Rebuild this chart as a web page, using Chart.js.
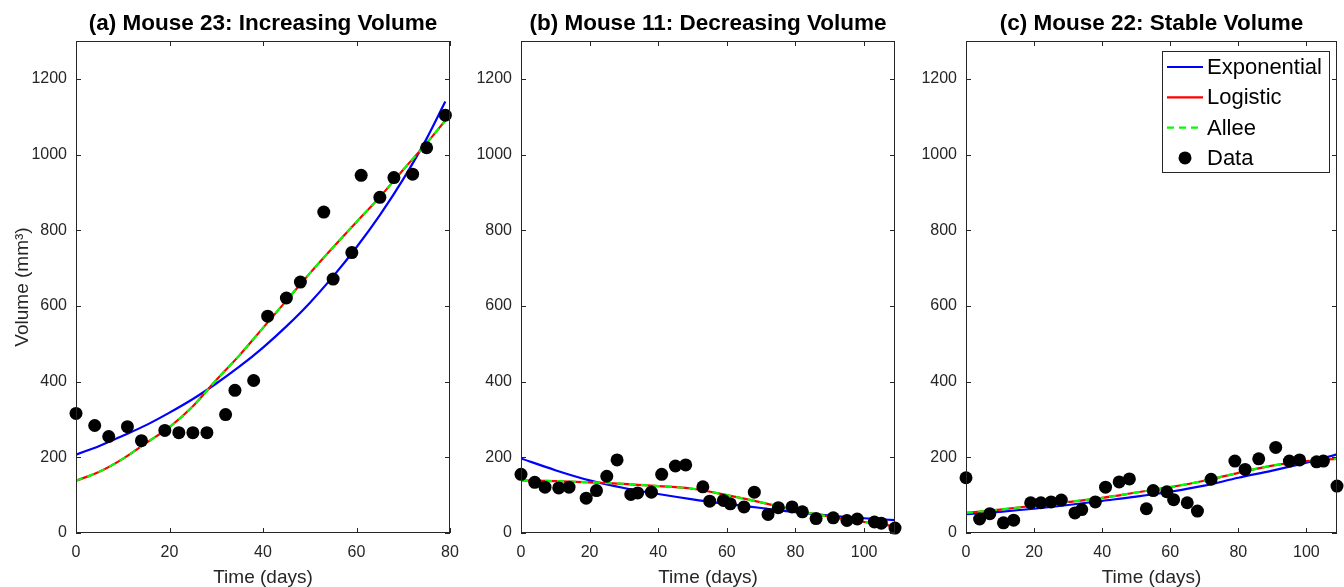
<!DOCTYPE html>
<html>
<head>
<meta charset="utf-8">
<title>Tumor volume fits</title>
<script src="https://cdn.jsdelivr.net/npm/chart.js@4/dist/chart.umd.min.js"></script>
<style>
  body { margin: 0; background: #fff; }
  canvas { position: absolute; top: 0; }
</style>
</head>
<body>
<canvas id="chartA" width="460" height="587" style="left:0"></canvas>
<canvas id="chartB" width="445" height="587" style="left:460px"></canvas>
<canvas id="chartC" width="439" height="587" style="left:905px"></canvas>
<script>
// ---- data ----
const yTicks = [0, 200, 400, 600, 800, 1000, 1200];
const xTicksA = [0, 20, 40, 60, 80];
const xTicksBC = [0, 20, 40, 60, 80, 100];

// (a) Mouse 23
const daysA = [0, 4, 7, 11, 14, 19, 22, 25, 28, 32, 34, 38, 41, 45, 48, 53, 55, 59, 61, 65, 68, 72, 75, 79];
const volA = [316, 284, 255, 281, 244, 271, 265, 265, 265, 313, 377, 403, 573, 621, 663, 848, 671, 741, 945, 887, 939, 948, 1018, 1104];
const fitDaysA = [0, 5, 10, 15, 20, 25, 30, 35, 40, 45, 50, 55, 60, 65, 70, 75, 79];
const expA = [207, 230, 257, 285, 318, 354, 395, 440, 490, 546, 608, 678, 755, 840, 935, 1042, 1140];
const logA = [138, 162, 196, 238, 280, 335, 404, 470, 542, 614, 686, 755, 822, 888, 960, 1030, 1090];
const alleeA = [138, 162, 196, 238, 280, 335, 404, 470, 542, 614, 686, 755, 822, 888, 960, 1030, 1090];

// (b) Mouse 11
const daysB = [0, 4, 7, 11, 14, 19, 22, 25, 28, 32, 34, 38, 41, 45, 48, 53, 55, 59, 61, 65, 68, 72, 75, 79, 82, 86, 91, 95, 98, 103, 105, 109];
const volB = [155, 134, 121, 119, 121, 92, 112, 150, 193, 102, 106, 108, 155, 177, 180, 122, 84, 86, 77, 69, 108, 49, 67, 69, 56, 38, 40, 33, 37, 29, 26, 13];
const fitDaysBC = [0, 10, 20, 30, 40, 50, 60, 70, 80, 90, 100, 109];
const expB = [197, 166, 139, 119, 103, 89, 77, 66, 55, 46, 39, 34];
const logB = [139, 137, 134, 130, 124, 117, 100, 81, 60, 43, 29, 18];
const alleeB = [139, 137, 134, 130, 124, 117, 100, 81, 60, 43, 29, 18];

// (c) Mouse 22
const daysC = [0, 4, 7, 11, 14, 19, 22, 25, 28, 32, 34, 38, 41, 45, 48, 53, 55, 59, 61, 65, 68, 72, 79, 82, 86, 91, 95, 98, 103, 105, 109];
const volC = [146, 37, 51, 27, 34, 80, 80, 82, 87, 53, 62, 82, 121, 135, 143, 64, 112, 109, 88, 80, 58, 142, 190, 168, 196, 226, 190, 193, 188, 190, 124];
const expC = [50, 56, 64, 74, 85, 96, 109, 125, 146, 165, 186, 208];
const logC = [53, 62, 72, 82, 93, 107, 121, 138, 159, 178, 190, 196];
const alleeC = [53, 62, 72, 82, 93, 107, 121, 138, 159, 178, 190, 196];

Chart.defaults.font.family = '"Liberation Sans", Arial, Helvetica, sans-serif';
const AXIS_COLOR = '#262626';

function toXY(xs, ys) {
  return xs.map((x, i) => ({ x: x, y: ys[i] }));
}

// box around the axes with inward tick marks on all four sides
const boxPlugin = {
  id: 'axesBox',
  afterDatasetsDraw(chart) {
    const { ctx, chartArea: a, scales } = chart;
    const len = 5;
    ctx.save();
    ctx.strokeStyle = AXIS_COLOR;
    ctx.lineWidth = 1;
    ctx.strokeRect(a.left + 0.5, a.top + 0.5, a.right - a.left - 1, a.bottom - a.top - 1);
    ctx.beginPath();
    scales.x.ticks.forEach(t => {
      const px = Math.round(scales.x.getPixelForValue(t.value)) + 0.5;
      ctx.moveTo(px, a.bottom); ctx.lineTo(px, a.bottom - len);
      ctx.moveTo(px, a.top); ctx.lineTo(px, a.top + len);
    });
    scales.y.ticks.forEach(t => {
      const py = Math.round(scales.y.getPixelForValue(t.value)) + 0.5;
      ctx.moveTo(a.left, py); ctx.lineTo(a.left + len, py);
      ctx.moveTo(a.right, py); ctx.lineTo(a.right - len, py);
    });
    ctx.stroke();
    ctx.restore();
  }
};

// MATLAB-like legend box in the upper right of the axes
const legendPlugin = {
  id: 'boxLegend',
  afterDraw(chart) {
    const { ctx, chartArea: a } = chart;
    const w = 167, h = 121;
    const left = a.right - 8 - w, top = a.top + 10;
    ctx.save();
    ctx.fillStyle = '#fff';
    ctx.fillRect(left, top, w, h);
    ctx.strokeStyle = AXIS_COLOR;
    ctx.lineWidth = 1;
    ctx.strokeRect(left + 0.5, top + 0.5, w, h);
    ctx.font = '22px "Liberation Sans", Arial, sans-serif';
    ctx.textBaseline = 'middle';
    ctx.fillStyle = '#000';
    chart.data.datasets.forEach((ds, i) => {
      const y = top + 16 + i * 30.3;
      if (ds.showLine === false) {
        ctx.beginPath();
        ctx.arc(left + 23, y, 6.5, 0, Math.PI * 2);
        ctx.fill();
      } else {
        ctx.beginPath();
        ctx.strokeStyle = ds.borderColor;
        ctx.lineWidth = 2.2;
        ctx.setLineDash(ds.borderDash || []);
        ctx.moveTo(left + 5, y);
        ctx.lineTo(left + 41, y);
        ctx.stroke();
        ctx.setLineDash([]);
      }
      ctx.fillStyle = '#000';
      ctx.fillText(ds.label, left + 45, y + 1);
    });
    ctx.restore();
  }
};

function buildChart(id, p) {
  const lineBase = { pointRadius: 0, borderWidth: 2.2, fill: false, cubicInterpolationMode: 'monotone' };
  return new Chart(document.getElementById(id), {
    type: 'line',
    data: {
      datasets: [
        Object.assign({ label: 'Exponential', data: toXY(p.fitDays, p.exp), borderColor: '#0000ff', order: 3 }, lineBase),
        Object.assign({ label: 'Logistic', data: toXY(p.fitDays, p.log), borderColor: '#ff0000', order: 2 }, lineBase),
        Object.assign({ label: 'Allee', data: toXY(p.fitDays, p.allee), borderColor: '#00ff00', borderDash: [7, 5], order: 1 }, lineBase),
        {
          label: 'Data', data: toXY(p.days, p.vol), showLine: false,
          pointRadius: 6.5, pointBackgroundColor: '#000', pointBorderWidth: 0,
          clip: false, order: 0
        }
      ]
    },
    options: {
      responsive: false,
      animation: false,
      layout: { autoPadding: false, padding: { left: 0, right: p.padRight, top: 0, bottom: 0 } },
      plugins: {
        legend: { display: false },
        tooltip: { enabled: false },
        title: {
          display: true, text: p.title, fullSize: false, color: '#000',
          font: { size: 22.5, weight: 'bold', lineHeight: 1.2 },
          padding: { top: 10, bottom: 4 }
        }
      },
      scales: {
        x: {
          type: 'linear', min: 0, max: p.xMax,
          afterBuildTicks: s => { s.ticks = p.xTicks.map(v => ({ value: v })); },
          afterFit: s => { s.height = 54; s.paddingLeft = 0; s.paddingRight = 0; },
          grid: { display: false, drawTicks: false }, border: { display: false },
          ticks: { padding: 10, color: AXIS_COLOR, font: { size: 16 }, maxRotation: 0, callback: v => String(v) },
          title: { display: true, text: 'Time (days)', color: AXIS_COLOR, font: { size: 19, lineHeight: 1 }, padding: { top: 0, bottom: 0 } }
        },
        y: {
          type: 'linear', min: 0, max: 1300,
          afterBuildTicks: s => { s.ticks = yTicks.map(v => ({ value: v })); },
          afterFit: s => { s.width = p.yWidth; s.paddingTop = 0; s.paddingBottom = 0; },
          grid: { display: false, drawTicks: false }, border: { display: false },
          ticks: { padding: 9, color: AXIS_COLOR, font: { size: 16 }, callback: v => String(v) },
          title: { display: p.yTitle, text: 'Volume (mm³)', color: AXIS_COLOR, font: { size: 19, lineHeight: 1.2 }, padding: { top: 11, bottom: 0 } }
        }
      }
    },
    plugins: p.legend ? [boxPlugin, legendPlugin] : [boxPlugin]
  });
}

buildChart('chartA', {
  title: '(a) Mouse 23: Increasing Volume', days: daysA, vol: volA,
  fitDays: fitDaysA, exp: expA, log: logA, allee: alleeA,
  xMax: 80, xTicks: xTicksA, yWidth: 76, yTitle: true, padRight: 10, legend: false
});
buildChart('chartB', {
  title: '(b) Mouse 11: Decreasing Volume', days: daysB, vol: volB,
  fitDays: fitDaysBC, exp: expB, log: logB, allee: alleeB,
  xMax: 109, xTicks: xTicksBC, yWidth: 61, yTitle: false, padRight: 10, legend: false
});
buildChart('chartC', {
  title: '(c) Mouse 22: Stable Volume', days: daysC, vol: volC,
  fitDays: fitDaysBC, exp: expC, log: logC, allee: alleeC,
  xMax: 109, xTicks: xTicksBC, yWidth: 61, yTitle: false, padRight: 7, legend: true
});
</script>
</body>
</html>
